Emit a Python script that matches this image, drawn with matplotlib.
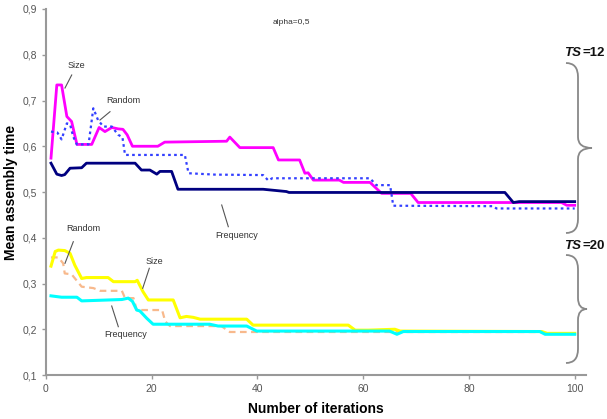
import matplotlib
matplotlib.use("Agg")
import matplotlib.pyplot as plt
from matplotlib.path import Path
from matplotlib.patches import PathPatch

plt.rcParams['font.family'] = ['Liberation Sans', 'DejaVu Sans']

# ---- data (TS = 12) ----
size12_x = [1, 2.1, 3, 4, 4.9, 5.9, 8.7, 10.1, 11.2, 12.5, 13.7, 14.6, 15.4, 16.4, 21.2, 22.5,
            34.2, 34.8, 36.7, 43, 44, 48, 49, 49.6, 50.6, 55.5, 56.3, 61.3, 63.5, 69, 70.4,
            97.5, 98.5, 100]
size12_y = [0.574, 0.734, 0.734, 0.665, 0.654, 0.604, 0.604, 0.641, 0.632, 0.641, 0.638, 0.637,
            0.625, 0.600, 0.600, 0.609, 0.611, 0.620, 0.597, 0.597, 0.570, 0.570, 0.541, 0.542,
            0.526, 0.526, 0.521, 0.521, 0.497, 0.497, 0.477, 0.477, 0.471, 0.471]

freq12_x = [1, 2.1, 3, 3.6, 4.6, 6.8, 7.7, 16.9, 18.1, 19.7, 21, 21.6, 23.8, 25, 41.1, 45.5,
            46, 86.8, 88.4, 89.5, 100]
freq12_y = [0.563, 0.539, 0.536, 0.538, 0.552, 0.553, 0.563, 0.563, 0.548, 0.548, 0.539, 0.545,
            0.545, 0.506, 0.506, 0.501, 0.499, 0.499, 0.477, 0.479, 0.479]

rand12_x = [1, 2.2, 3, 4, 4.6, 5.2, 5.9, 8.1, 9, 9.9, 10.9, 12.5, 13.7, 14.5, 15, 26.3, 27,
            32, 41.1, 42.1, 42.8, 61.3, 62.5, 65.1, 65.7, 84.6, 85.2, 100]
rand12_y = [0.632, 0.630, 0.615, 0.650, 0.648, 0.621, 0.604, 0.604, 0.683, 0.657, 0.643, 0.643,
            0.625, 0.620, 0.581, 0.581, 0.541, 0.538, 0.537, 0.525, 0.530, 0.530, 0.515, 0.515,
            0.470, 0.469, 0.464, 0.464]

# ---- data (TS = 20) ----
size20_x = [1, 1.8, 2.4, 3.6, 4.6, 5.5, 6.8, 7.7, 11.8, 12.8, 16.9, 17.3, 18.4, 19.4, 24.1,
            25.4, 26.6, 27.9, 29.2, 38, 39.2, 57.2, 58.5, 61, 66, 67, 93.8, 94.8, 100]
size20_y = [0.338, 0.370, 0.373, 0.372, 0.366, 0.340, 0.311, 0.313, 0.313, 0.304, 0.304, 0.307,
            0.282, 0.264, 0.264, 0.225, 0.228, 0.226, 0.222, 0.222, 0.209, 0.209, 0.198, 0.198,
            0.200, 0.196, 0.195, 0.191, 0.191]

freq20_x = [1, 3, 5.9, 6.8, 14.4, 15.6, 16.4, 17.2, 17.8, 19.1, 20.3, 31, 32.6, 38, 39.9, 65,
            66.4, 67.6, 93.4, 94.4, 100]
freq20_y = [0.273, 0.270, 0.270, 0.262, 0.265, 0.268, 0.261, 0.242, 0.240, 0.224, 0.211, 0.211,
            0.207, 0.207, 0.196, 0.196, 0.189, 0.195, 0.195, 0.189, 0.189]

rand20_x = [1, 2.4, 3.3, 3.6, 4.9, 6.8, 9, 10.3, 14.4, 15, 16.6, 17.2, 22, 22.6, 23.5, 33.2,
            34.8, 93.5, 94.5, 100]
rand20_y = [0.357, 0.357, 0.344, 0.322, 0.320, 0.293, 0.290, 0.284, 0.284, 0.268, 0.268, 0.242,
            0.242, 0.217, 0.207, 0.207, 0.194, 0.194, 0.191, 0.191]

y_ticks = [0.1, 0.2, 0.3, 0.4, 0.5, 0.6, 0.7, 0.8, 0.9]
y_tick_labels = ["0,1", "0,2", "0,3", "0,4", "0,5", "0,6", "0,7", "0,8", "0,9"]
x_ticks = [0, 20, 40, 60, 80, 100]

W, H = 607, 419
fig = plt.figure(figsize=(W / 100, H / 100), dpi=100)
ax = fig.add_axes([45.7 / W, 1 - 375 / H, (586 - 45.7) / W, 366 / H])

ax.plot(rand20_x, rand20_y, color="#F8B98C", lw=1.6, ls=(0, (3, 2)))
ax.plot(size20_x, size20_y, color="#FFFF00", lw=2.2)
ax.plot(freq20_x, freq20_y, color="#00FFFF", lw=2.2)
ax.plot(size12_x, size12_y, color="#FF00FF", lw=2.0)
ax.plot(freq12_x, freq12_y, color="#000080", lw=2.0)
ax.plot(rand12_x, rand12_y, color="#3340FF", lw=1.6, ls=(0, (1.2, 1.5)))

ax.set_xlim(0, (586 - 45.7) / 5.29)
ax.set_ylim(0.1, 0.9)
ax.set_yticks(y_ticks)
ax.set_yticklabels(y_tick_labels)
ax.set_xticks(x_ticks)
for s in ["top", "right"]:
    ax.spines[s].set_visible(False)
for s in ["left", "bottom"]:
    ax.spines[s].set_color("#999999")
    ax.spines[s].set_linewidth(1.5)
ax.tick_params(axis="both", colors="#999999", labelcolor="#555555", labelsize=7.5,
               length=3, width=1, direction="out")
ax.set_xlabel("Number of iterations", fontsize=10, fontweight="bold", labelpad=6)
ax.set_ylabel("Mean assembly time", fontsize=10, fontweight="bold", labelpad=3)

# overlay in pixel coordinates for annotations
ov = fig.add_axes([0, 0, 1, 1], facecolor="none")
ov.set_xlim(0, W)
ov.set_ylim(H, 0)
ov.axis("off")

tc = "#333333"
ov.text(291, 22, "alpha=0,5", fontsize=6, color=tc, ha="center", va="center")
labels = [
    ("Size", 76, 65, (71.7, 75), (65, 88)),
    ("Random", 123, 100, (110, 111.7), (100, 120)),
    ("Frequency", 237, 235, (221.7, 205), (228.3, 226.7)),
    ("Random", 83, 228, (73.3, 241.7), (65, 263.3)),
    ("Size", 154, 261, (149.3, 268.3), (142.7, 288.3)),
    ("Frequency", 126, 334, (111.7, 306), (118.3, 326.7)),
]
for txt, x, y, p0, p1 in labels:
    ov.text(x, y, txt, fontsize=6.5, color=tc, ha="center", va="center")
    ov.plot([p0[0], p1[0]], [p0[1], p1[1]], color="#555555", lw=0.8)


def brace(top, bottom, tip_x, vx=578, ex=566):
    mid = (top + bottom) / 2
    verts = [(ex, top), (vx, top), (vx, top + 14),
             (vx, mid - 11), (vx, mid), (tip_x, mid),
             (vx, mid), (vx, mid + 11),
             (vx, bottom - 14), (vx, bottom), (ex, bottom)]
    codes = [Path.MOVETO, Path.CURVE3, Path.CURVE3,
             Path.LINETO, Path.CURVE3, Path.CURVE3,
             Path.CURVE3, Path.CURVE3,
             Path.LINETO, Path.CURVE3, Path.CURVE3]
    ov.add_patch(PathPatch(Path(verts, codes), fill=False, edgecolor="#888888", lw=1.3))


brace(63, 233, 592)
brace(255, 363, 587)

for y, lab in [(53, "=12"), (246, "=20")]:
    ov.text(581.5, y, "TS", fontsize=9.5, fontweight="bold", fontstyle="italic",
            ha="right", va="center", color="#111111")
    ov.text(582.5, y, lab, fontsize=9.5, fontweight="bold", ha="left", va="center",
            color="#111111")

fig.savefig("out.png", dpi=100)
